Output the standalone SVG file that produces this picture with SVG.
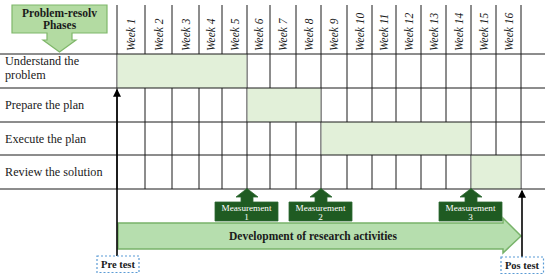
<svg xmlns="http://www.w3.org/2000/svg" width="550" height="277" viewBox="0 0 550 277">
<defs>
<style>
.grid{stroke:#1a1a1a;stroke-width:1;fill:none}
.bar{fill:#e2f0d9;stroke:none}
.wk{font-family:"Liberation Serif",serif;font-style:italic;font-size:11.5px;fill:#1a1a1a}
.row{font-family:"Liberation Serif",serif;font-size:12.2px;fill:#1a1a1a}
.hdr{fill:#b3dba2;stroke:#7fb76a;stroke-width:1.2}
.hdrt{font-family:"Liberation Serif",serif;font-weight:bold;font-size:11.5px;fill:#1a1a1a;text-anchor:middle}
.meas{fill:#1f5b22;stroke:#2f6b32;stroke-width:0.8}
.meast{font-family:"Liberation Serif",serif;font-size:9.2px;fill:#ffffff;text-anchor:middle}
.dev{fill:#b6deae;stroke:#78b36a;stroke-width:1.5}
.devt{font-family:"Liberation Serif",serif;font-weight:bold;font-size:11.5px;fill:#1a1a1a;text-anchor:middle}
.test{fill:#ffffff;stroke:#5b9bd5;stroke-width:1.2;stroke-dasharray:2,2}
.testt{font-family:"Liberation Serif",serif;font-weight:bold;font-size:10.5px;fill:#1a1a1a;text-anchor:middle}
.conn{stroke:#000000;stroke-width:1.6;fill:none}
</style>
<marker id="ah" markerWidth="8" markerHeight="8" refX="5" refY="3" orient="auto" markerUnits="userSpaceOnUse" viewBox="0 0 6 6">
<path d="M0,0 L6,3 L0,6 Z" fill="#000"/>
</marker>
</defs>

<g id="table">
<g id="verticals" class="grid">
<line x1="117" y1="5" x2="117" y2="189"/>
<line x1="145" y1="5" x2="145" y2="189"/>
<line x1="172" y1="5" x2="172" y2="189"/>
<line x1="199" y1="5" x2="199" y2="189"/>
<line x1="222" y1="5" x2="222" y2="189"/>
<line x1="247" y1="5" x2="247" y2="189"/>
<line x1="270" y1="5" x2="270" y2="189"/>
<line x1="296" y1="5" x2="296" y2="189"/>
<line x1="321" y1="5" x2="321" y2="189"/>
<line x1="347" y1="5" x2="347" y2="189"/>
<line x1="372" y1="5" x2="372" y2="189"/>
<line x1="396" y1="5" x2="396" y2="189"/>
<line x1="421" y1="5" x2="421" y2="189"/>
<line x1="446" y1="5" x2="446" y2="189"/>
<line x1="471" y1="5" x2="471" y2="189"/>
<line x1="496" y1="5" x2="496" y2="189"/>
<line x1="521" y1="5" x2="521" y2="189"/>
</g>
<g id="bars">
<rect class="bar" x="117.6" y="54" width="128.8" height="34"/>
<rect class="bar" x="247.6" y="88" width="72.8" height="34"/>
<rect class="bar" x="321.6" y="122" width="148.8" height="33"/>
<rect class="bar" x="471.6" y="155" width="48.8" height="34"/>
</g>
<g id="horizontals" class="grid">
<line x1="0" y1="54" x2="545" y2="54"/>
<line x1="0" y1="88" x2="545" y2="88"/>
<line x1="0" y1="122" x2="545" y2="122"/>
<line x1="0" y1="155" x2="545" y2="155"/>
<line x1="0" y1="189" x2="545" y2="189"/>
</g>
<g id="weeks" class="wk">
<text transform="translate(135,51) rotate(-90)">Week 1</text>
<text transform="translate(162.5,51) rotate(-90)">Week 2</text>
<text transform="translate(189.5,51) rotate(-90)">Week 3</text>
<text transform="translate(214.5,51) rotate(-90)">Week 4</text>
<text transform="translate(238.5,51) rotate(-90)">Week 5</text>
<text transform="translate(262.5,51) rotate(-90)">Week 6</text>
<text transform="translate(287,51) rotate(-90)">Week 7</text>
<text transform="translate(312.5,51) rotate(-90)">Week 8</text>
<text transform="translate(338,51) rotate(-90)">Week 9</text>
<text transform="translate(363.5,51) rotate(-90)">Week 10</text>
<text transform="translate(388,51) rotate(-90)">Week 11</text>
<text transform="translate(412.5,51) rotate(-90)">Week 12</text>
<text transform="translate(437.5,51) rotate(-90)">Week 13</text>
<text transform="translate(462.5,51) rotate(-90)">Week 14</text>
<text transform="translate(487.5,51) rotate(-90)">Week 15</text>
<text transform="translate(512.5,51) rotate(-90)">Week 16</text>
</g>
</g>

<g id="phase-header">
<path class="hdr" d="M12,5 H107 V33 H72 V40 H76 L59.5,52 L43,40 H47 V33 H12 Z"/>
<text class="hdrt" x="59.5" y="17">Problem-resolv</text>
<text class="hdrt" x="59.5" y="29">Phases</text>
</g>

<g id="phase-understand">
<text class="row" x="5" y="65">Understand the</text>
<text class="row" x="5" y="78.5">problem</text>
</g>
<g id="phase-prepare">
<text class="row" x="5" y="108.5">Prepare the plan</text>
</g>
<g id="phase-execute">
<text class="row" x="5" y="142.5">Execute the plan</text>
</g>
<g id="phase-review">
<text class="row" x="5" y="175.5">Review the solution</text>
</g>

<g id="development">
<path class="dev" d="M118,223 H503 V218 L521,236 L503,253 V249 H118 Z"/>
<text class="devt" x="313" y="240">Development of research activities</text>
</g>

<g id="measurement-1">
<path class="meas" d="M215,202 H241 V197 H236 L247,188.5 L258,197 H253 V202 H278 V221 H215 Z"/>
<text class="meast" x="246.5" y="210.5">Measurement</text>
<text class="meast" x="246.5" y="219.5">1</text>
</g>
<g id="measurement-2">
<path class="meas" d="M289,202 H315 V197 H310 L321,188.5 L332,197 H327 V202 H352 V221 H289 Z"/>
<text class="meast" x="320.5" y="210.5">Measurement</text>
<text class="meast" x="320.5" y="219.5">2</text>
</g>
<g id="measurement-3">
<path class="meas" d="M439,202 H465 V197 H460 L471,188.5 L482,197 H477 V202 H502 V221 H439 Z"/>
<text class="meast" x="470.5" y="210.5">Measurement</text>
<text class="meast" x="470.5" y="219.5">3</text>
</g>

<g id="connectors">
<line class="conn" x1="117" y1="256" x2="117" y2="90" marker-end="url(#ah)"/>
<line class="conn" x1="522" y1="257" x2="522" y2="191" marker-end="url(#ah)"/>
</g>

<g id="pre-test">
<rect class="test" x="97" y="256" width="42" height="16.5"/>
<text class="testt" x="118" y="268">Pre test</text>
</g>
<g id="pos-test">
<rect class="test" x="501" y="257" width="42.5" height="16.5"/>
<text class="testt" x="522" y="269">Pos test</text>
</g>
</svg>
